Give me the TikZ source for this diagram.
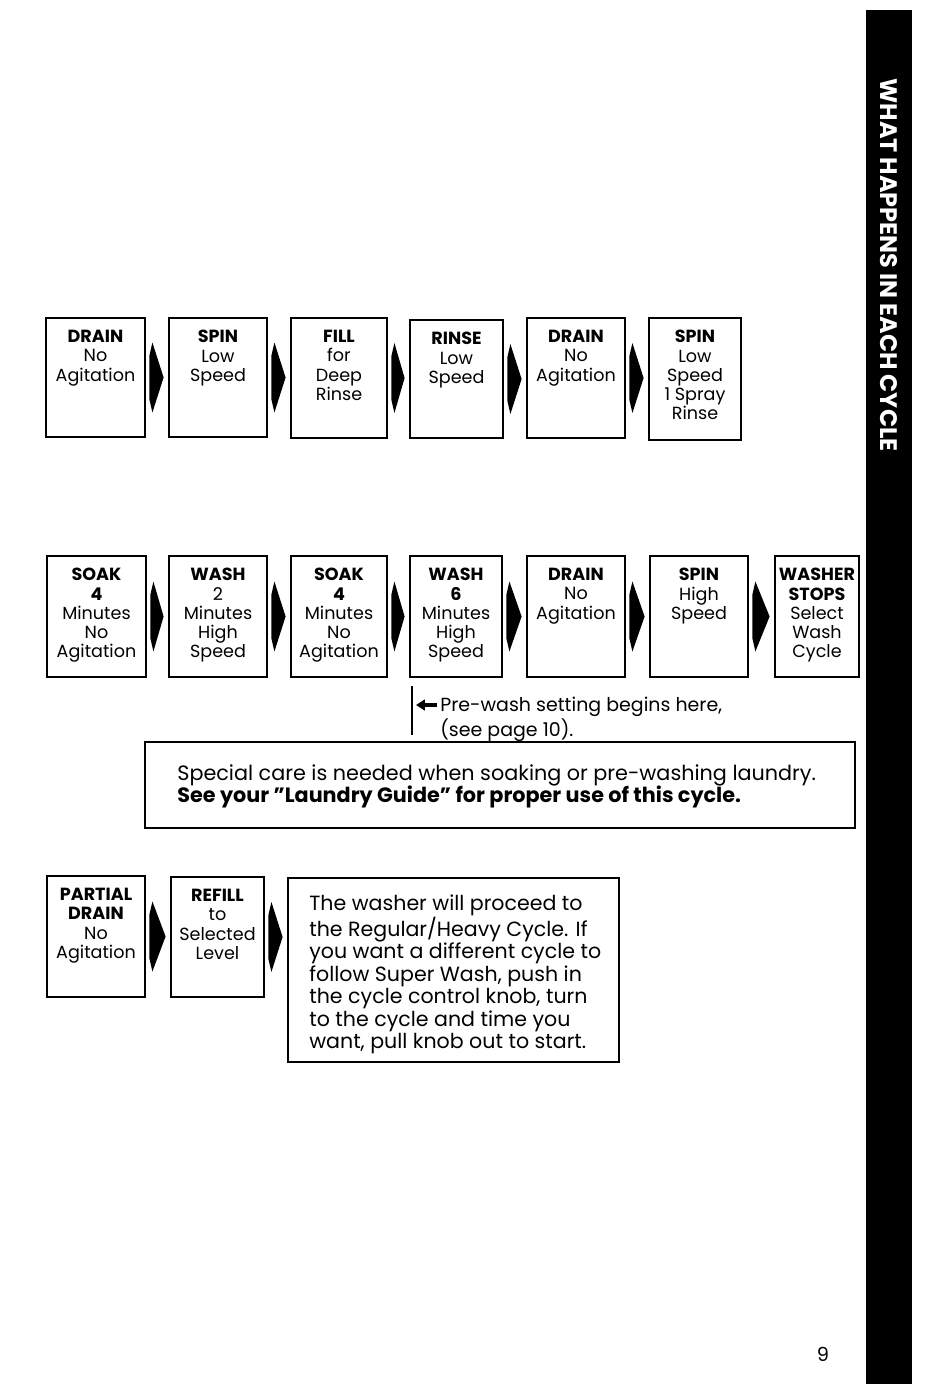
\documentclass[tikz,border=0pt]{standalone}
\usepackage{fontspec}
\setmainfont{Poppins}
\usetikzlibrary{calc,fit,arrows.meta}
\tikzset{
  stage/.style={draw, line width=1.6pt, inner sep=0pt},
  lbl/.style={anchor=north, align=center, inner sep=0pt, font=\fontsize{10}{10.9}\selectfont},
  note/.style={anchor=north west, align=left, inner sep=0pt},
  flow/.style={fill=black},
}
\newcommand\stagebox[6]{%
  \coordinate (#1-a) at (#2,#3);
  \coordinate (#1-b) at (#4,#5);
  \node[stage, fit=(#1-a)(#1-b)] (#1) {};
  \node[lbl] (#1-t) at ($(#1.north)+(0,13.5)$) {#6};
}
\newcommand\flowarrow[2]{%
  \fill[flow] ($(#1.east)+(3,-22)$) -- ($(#1.east)+(6,-35)$) -- ($(#1.east -| #2.west)+(-4,0)$)
    -- ($(#1.east)+(6,35)$) -- ($(#1.east)+(3,22)$) -- cycle;
}
\begin{document}
\begin{tikzpicture}[x=0.02cm,y=-0.02cm]
\useasboundingbox (0,0) rectangle (950,1386);
% side bar
\fill[black] (866,10) rectangle (912,1384);
\node[rotate=-90, text=white, font=\fontsize{13.6}{14}\selectfont\bfseries, inner sep=0pt] (side) at (889,265) {WHAT HAPPENS IN EACH CYCLE};

% row 1
\stagebox{a1}{46}{318}{145}{437}{\textbf{DRAIN}\\No\\Agitation}
\stagebox{a2}{169}{318}{267}{437}{\textbf{SPIN}\\Low\\Speed}
\stagebox{a3}{291}{318}{387}{438}{\textbf{FILL}\\for\\Deep\\Rinse}
\stagebox{a4}{410}{320}{503}{438}{\textbf{RINSE}\\Low\\Speed}
\stagebox{a5}{527}{318}{625}{438}{\textbf{DRAIN}\\No\\Agitation}
\stagebox{a6}{649}{318}{741}{440}{\textbf{SPIN}\\Low\\Speed\\1 Spray\\Rinse}
\flowarrow{a1}{a2}
\flowarrow{a2}{a3}
\flowarrow{a3}{a4}
\flowarrow{a4}{a5}
\flowarrow{a5}{a6}

% row 2
\stagebox{b1}{47}{556}{146}{677}{\textbf{SOAK}\\\textbf{4}\\Minutes\\No\\Agitation}
\stagebox{b2}{169}{556}{267}{677}{\textbf{WASH}\\2\\Minutes\\High\\Speed}
\stagebox{b3}{291}{556}{387}{677}{\textbf{SOAK}\\\textbf{4}\\Minutes\\No\\Agitation}
\stagebox{b4}{410}{556}{502}{677}{\textbf{WASH}\\\textbf{6}\\Minutes\\High\\Speed}
\stagebox{b5}{527}{556}{625}{677}{\textbf{DRAIN}\\No\\Agitation}
\stagebox{b6}{650}{556}{748}{677}{\textbf{SPIN}\\High\\Speed}
\stagebox{b7}{775}{556}{859}{677}{\textbf{WASHER}\\\textbf{STOPS}\\Select\\Wash\\Cycle}
\flowarrow{b1}{b2}
\flowarrow{b2}{b3}
\flowarrow{b3}{b4}
\flowarrow{b4}{b5}
\flowarrow{b5}{b6}
\flowarrow{b6}{b7}

% pre-wash marker
\coordinate (pwtop) at (412,686);
\coordinate (pwbot) at (412,735);
\draw[line width=1.2pt] (pwtop) -- (pwbot);
\coordinate (pwtip) at (416,705);
\node[note, font=\fontsize{10.8}{11.8}\selectfont] (pw) at (440,697) {Pre-wash setting begins here,\\(see page 10).};
\draw[line width=1.8pt, -{Triangle[length=5pt,width=6pt]}] ($(pw.north west)+(-3,8)$) -- (pwtip);

% special care box
\coordinate (sc-a) at (145,742);
\coordinate (sc-b) at (855,828);
\node[stage, fit=(sc-a)(sc-b)] (sc) {};
\node[note, font=\fontsize{11.8}{13}\selectfont] (sc-t) at (177,764) {Special care is needed when soaking or pre-washing laundry.\\\textbf{See your \symbol{34}Laundry Guide\symbol{34} for proper use of this cycle.}};

% row 3
\stagebox{c1}{47}{876}{145}{997}{\textbf{PARTIAL}\\\textbf{DRAIN}\\No\\Agitation}
\stagebox{c2}{171}{877}{264}{997}{\textbf{REFILL}\\to\\Selected\\Level}
\coordinate (tx-a) at (288,878);
\coordinate (tx-b) at (619,1062);
\node[stage, fit=(tx-a)(tx-b)] (tx) {};
\node[note, font=\fontsize{11.7}{12.75}\selectfont] (tx-t) at (309,894) {The washer will proceed to\\the Regular/Heavy Cycle. If\\you want a different cycle to\\follow Super Wash, push in\\the cycle control knob, turn\\to the cycle and time you\\want, pull knob out to start.};
\flowarrow{c1}{c2}
\flowarrow{c2}{tx}

% page number
\node[font=\fontsize{11}{11}\selectfont, inner sep=0pt] (pg) at (823,1354) {9};
\end{tikzpicture}
\end{document}
